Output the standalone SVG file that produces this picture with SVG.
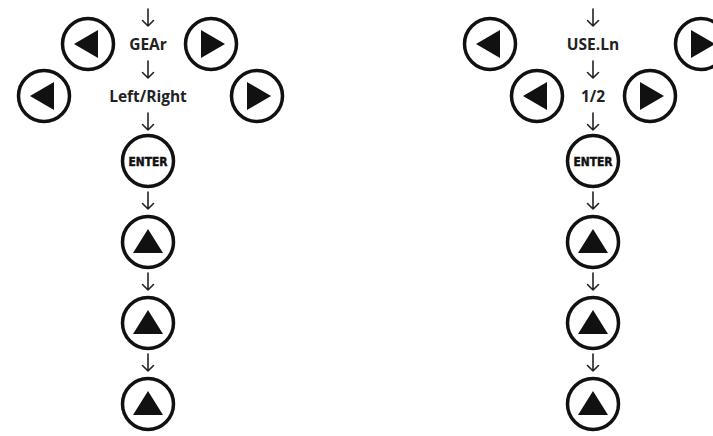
<svg xmlns="http://www.w3.org/2000/svg" width="713" height="436" viewBox="0 0 713 436">
<defs>
<style>
.btn{fill:#fff;stroke:#111;stroke-width:3.5}
.tri{fill:#111}
.lbl{font-family:"Open Sans","Liberation Sans",sans-serif;font-weight:700;font-size:15.5px;fill:#222;text-anchor:middle}
.ent{font-family:"DejaVu Sans","Liberation Sans",sans-serif;font-weight:700;font-size:12.5px;fill:#111;text-anchor:middle;stroke:#111;stroke-width:0.5}
.arr{fill:none;stroke:#222;stroke-width:1.6;stroke-linecap:round;stroke-linejoin:round}
</style>
<g id="lbtn"><circle class="btn" r="25.5"/><polygon class="tri" points="-14,0 10,-14 10,14"/></g>
<g id="rbtn"><circle class="btn" r="25.5"/><polygon class="tri" points="14,0 -10,-14 -10,14"/></g>
<g id="ubtn"><circle class="btn" r="25.5"/><polygon class="tri" points="0,-13 15,11 -15,11"/></g>
<g id="ebtn"><circle class="btn" r="25.5"/><text class="ent" y="4.5" textLength="39" lengthAdjust="spacingAndGlyphs">ENTER</text></g>
<path id="dn" class="arr" d="M0,-9 V8 M-5.5,2.5 L0,8 L5.5,2.5"/>
</defs>
<rect width="713" height="436" fill="#fff"/>
<g id="connectors">
<use href="#dn" x="148" y="18"/>
<use href="#dn" x="148" y="70"/>
<use href="#dn" x="148" y="122"/>
<use href="#dn" x="148" y="201"/>
<use href="#dn" x="148" y="282"/>
<use href="#dn" x="148" y="363"/>
<use href="#dn" x="593" y="18"/>
<use href="#dn" x="593" y="70"/>
<use href="#dn" x="593" y="122"/>
<use href="#dn" x="593" y="201"/>
<use href="#dn" x="593" y="282"/>
<use href="#dn" x="593" y="363"/>
</g>
<g id="gear-label"><text class="lbl" x="148" y="50">GEAr</text></g>
<g id="gear-left"><use href="#lbtn" x="88" y="44"/></g>
<g id="gear-right"><use href="#rbtn" x="211" y="44"/></g>
<g id="lr-label"><text class="lbl" x="148" y="102">Left/Right</text></g>
<g id="lr-left"><use href="#lbtn" x="44" y="96"/></g>
<g id="lr-right"><use href="#rbtn" x="257" y="96"/></g>
<g id="enter-1"><use href="#ebtn" x="148" y="161"/></g>
<g id="up-1a"><use href="#ubtn" x="148" y="242"/></g>
<g id="up-1b"><use href="#ubtn" x="148" y="323"/></g>
<g id="up-1c"><use href="#ubtn" x="148" y="404"/></g>
<g id="use-label"><text class="lbl" x="593" y="50">USE.Ln</text></g>
<g id="use-left"><use href="#lbtn" x="490" y="44"/></g>
<g id="use-right"><use href="#rbtn" x="701" y="44"/></g>
<g id="half-label"><text class="lbl" x="593" y="102">1/2</text></g>
<g id="half-left"><use href="#lbtn" x="537" y="96"/></g>
<g id="half-right"><use href="#rbtn" x="650" y="96"/></g>
<g id="enter-2"><use href="#ebtn" x="593" y="161"/></g>
<g id="up-2a"><use href="#ubtn" x="593" y="242"/></g>
<g id="up-2b"><use href="#ubtn" x="593" y="323"/></g>
<g id="up-2c"><use href="#ubtn" x="593" y="404"/></g>
</svg>
